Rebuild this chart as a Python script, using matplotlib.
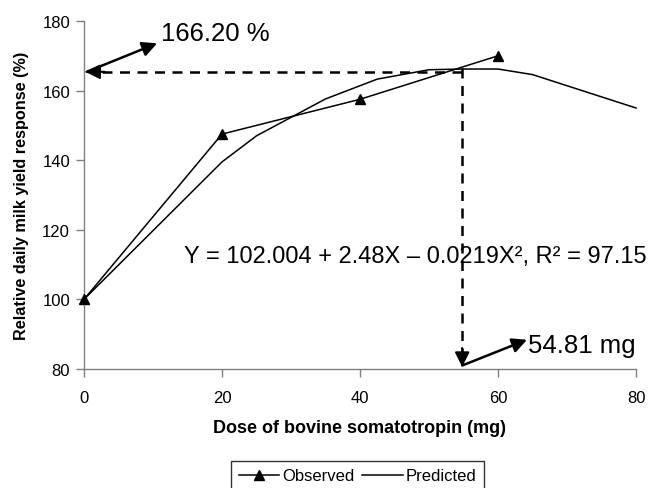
import matplotlib
matplotlib.use("Agg")
import matplotlib.pyplot as plt

plt.rcParams['font.family'] = ['Liberation Sans', 'DejaVu Sans']

# Data
obs_x = [0, 20, 40, 60]
obs_y = [100, 147.5, 157.5, 170]
pred_x = [0, 20, 25, 35, 42.5, 50, 55, 60, 65, 80]
pred_y = [100, 139.5, 147.0, 157.6, 163.3, 166.0, 166.2, 166.2, 164.6, 155.0]
xticks = [0, 20, 40, 60, 80]
yticks = [80, 100, 120, 140, 160, 180]
opt_x = 54.81
opt_y = 165.4

fig = plt.figure(figsize=(6.54, 4.89), dpi=100)
ax = fig.add_axes([0.1284, 0.2434, 0.9725 - 0.1284, 0.955 - 0.2434])

ax.plot(obs_x, obs_y, color='black', lw=1.1, marker='^', ms=7, label='Observed', clip_on=False, zorder=3)
ax.plot(pred_x, pred_y, color='black', lw=1.1, label='Predicted', clip_on=False, zorder=3)

ax.set_xlim(0, 80)
ax.set_ylim(80, 180)
ax.set_xticks(xticks)
ax.set_yticks(yticks)
for s in ['top', 'right']:
    ax.spines[s].set_visible(False)
for s in ['left', 'bottom']:
    ax.spines[s].set_color('#808080')
    ax.spines[s].set_linewidth(1.0)
ax.tick_params(colors='#808080', length=6, width=1.0, labelcolor='black', labelsize=12)
ax.tick_params(axis='x', pad=9)
ax.tick_params(axis='y', pad=4)

ax.set_xlabel('Dose of bovine somatotropin (mg)', fontsize=13, fontweight='bold', labelpad=10)
ax.set_ylabel('Relative daily milk yield response (%)', fontsize=11.7, fontweight='bold')
ax.yaxis.set_label_coords(-0.100, 0.5)

# Dashed guide lines
dash = (0, (4, 3))
ax.plot([opt_x, 1.8], [opt_y, opt_y], color='black', lw=1.8, ls=dash, zorder=4, clip_on=False)
ax.plot([opt_x, opt_x], [166.4, 84.5], color='black', lw=1.8, ls=dash, zorder=4, clip_on=False)
# arrowheads on dashed lines
ax.annotate('', xy=(0.2, opt_y), xytext=(3.0, opt_y),
            arrowprops=dict(arrowstyle='-|>', color='black', lw=1.5, mutation_scale=22, shrinkA=0, shrinkB=0))
ax.annotate('', xy=(opt_x, 80.6), xytext=(opt_x, 86.0),
            arrowprops=dict(arrowstyle='-|>', color='black', lw=1.5, mutation_scale=22, shrinkA=0, shrinkB=0))
# diagonal arrows to labels
ax.annotate('', xy=(10.6, 173.6), xytext=(0.4, 165.4),
            arrowprops=dict(arrowstyle='-|>', color='black', lw=1.8, mutation_scale=22, shrinkA=0, shrinkB=0))
ax.annotate('', xy=(64.2, 88.4), xytext=(opt_x, 81.0),
            arrowprops=dict(arrowstyle='-|>', color='black', lw=1.8, mutation_scale=22, shrinkA=0, shrinkB=0))

ax.text(11.2, 176.6, '166.20 %', fontsize=18.5, va='center', ha='left')
ax.text(64.4, 86.8, '54.81 mg', fontsize=18.5, va='center', ha='left', clip_on=False)
ax.text(14.5, 112.6, 'Y = 102.004 + 2.48X \u2013 0.0219X\u00b2, R\u00b2 = 97.15', fontsize=17,
        va='center', ha='left', clip_on=False)

leg = fig.legend(loc='upper center', bbox_to_anchor=(357.5 / 654, 1 - 462 / 489), ncol=2,
                 frameon=True, fancybox=False, edgecolor='black', prop={'size': 12},
                 handlelength=2.45, columnspacing=0.5, handletextpad=0.15, borderpad=0.45, borderaxespad=0)
leg.get_frame().set_linewidth(1.0)

fig.savefig('out.png', dpi=100)
